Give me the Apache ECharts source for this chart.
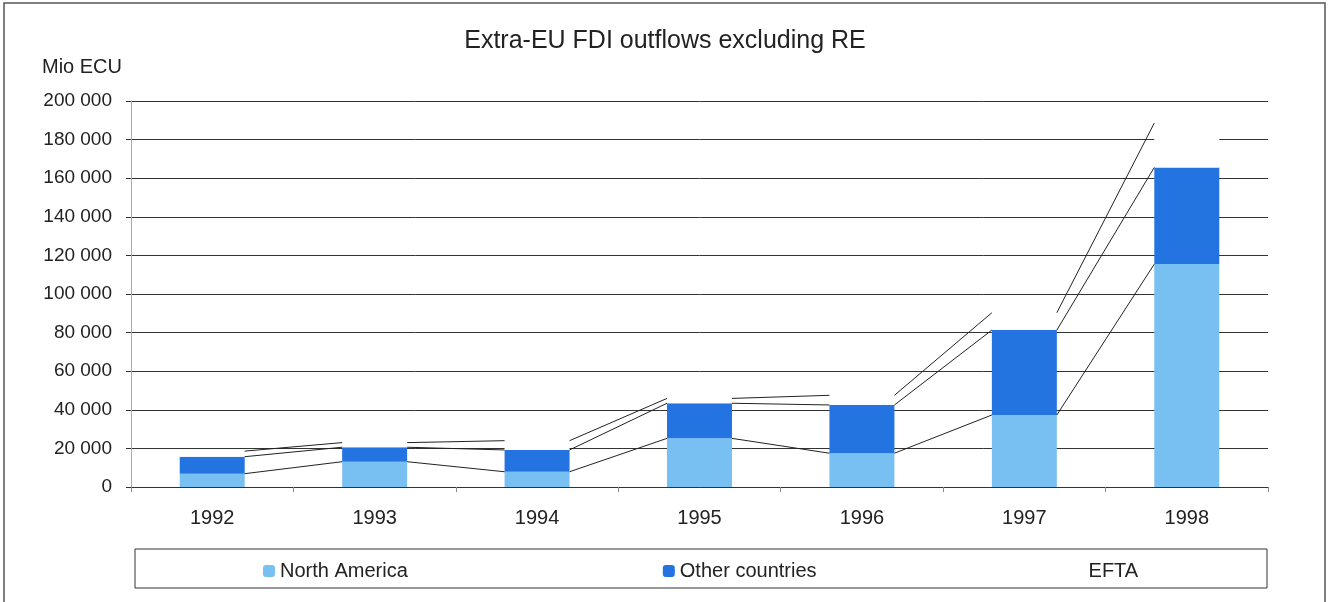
<!DOCTYPE html>
<html>
<head>
<meta charset="utf-8">
<script src="https://cdn.jsdelivr.net/npm/echarts@6/dist/echarts.min.js"></script>
<style>
  html, body { margin: 0; padding: 0; background: #fff; }
  #main { width: 1330px; height: 602px; }
</style>
</head>
<body>
<div id="main"></div>
<script>
  var years = ['1992', '1993', '1994', '1995', '1996', '1997', '1998'];
  var northAmerica = [6900, 13100, 7900, 25200, 17500, 37300, 115500];
  var otherCountries = [8800, 7500, 11300, 18200, 25000, 44000, 50100];
  var efta = [2900, 2400, 4800, 2500, 5000, 9000, 23000];

  var FONT = 'Liberation Sans, Arial, sans-serif';
  var BAR_FRAC = 0.4;

  // 累计高度，用来画柱子之间的连接线
  var topNA = [], topOther = [], topEfta = [];
  for (var i = 0; i < years.length; i++) {
    topNA.push(northAmerica[i]);
    topOther.push(northAmerica[i] + otherCountries[i]);
    topEfta.push(northAmerica[i] + otherCountries[i] + efta[i]);
  }
  var linkData = [];
  for (var j = 0; j < years.length - 1; j++) {
    linkData.push([j, topNA[j], topNA[j + 1], topOther[j], topOther[j + 1], topEfta[j], topEfta[j + 1]]);
  }

  function fmt(v) {
    return String(v).replace(/\B(?=(\d{3})+(?!\d))/g, ' ');
  }

  var myChart = echarts.init(document.getElementById('main'));

  option = {
      backgroundColor: '#fff',
      textStyle: { fontFamily: FONT },
      title: {
        text: 'Extra-EU FDI outflows excluding RE',
        left: 'center',
        top: 24,
        textStyle: { color: '#222', fontSize: 25, fontWeight: 'normal', fontFamily: FONT }
      },
      graphic: [
        {
          type: 'rect',
          shape: { x: 4, y: 3, width: 1321, height: 620 },
          style: { fill: null, stroke: '#555', lineWidth: 1.5 },
          silent: true
        },
        {
          type: 'rect',
          shape: { x: 135, y: 549, width: 1132, height: 39 },
          style: { fill: null, stroke: '#333', lineWidth: 1 },
          silent: true
        },
        {
          type: 'text',
          left: 42,
          top: 57,
          style: { text: 'Mio ECU', fill: '#222', font: '20px ' + FONT }
        }
      ],
      legend: {
        data: ['North America', 'Other countries', 'EFTA'],
        left: 258,
        top: 556,
        itemWidth: 12,
        itemHeight: 12,
        itemGap: 255,
        textStyle: { color: '#222', fontSize: 20, fontFamily: FONT }
      },
      grid: {
          left: 131,
          right: 62,
          top: 101,
          bottom: 115
      },
      xAxis: {
          type: 'category',
          data: years,
          axisLine: { lineStyle: { color: '#333', width: 1 } },
          axisTick: { show: true, length: 5, lineStyle: { color: '#888' } },
          axisLabel: { color: '#222', fontSize: 20, margin: 21, fontFamily: FONT }
      },
      yAxis: {
          type: 'value',
          min: 0,
          max: 200000,
          interval: 20000,
          axisLine: { show: true, lineStyle: { color: '#aaa' } },
          axisTick: { show: true, length: 5, lineStyle: { color: '#333' } },
          splitLine: { lineStyle: { color: '#333', width: 1 } },
          axisLabel: {
              color: '#222',
              fontSize: 19,
              margin: 19,
              fontFamily: FONT,
              formatter: fmt
          }
      },
      series: [
          {
              name: 'North America',
              type: 'bar',
              stack: 'fdi',
              barWidth: '40%',
              data: northAmerica,
              itemStyle: { color: '#79c0f2' }
          },
          {
              name: 'Other countries',
              type: 'bar',
              stack: 'fdi',
              barWidth: '40%',
              data: otherCountries,
              itemStyle: { color: '#2374e0' }
          },
          {
              name: 'EFTA',
              type: 'bar',
              stack: 'fdi',
              barWidth: '40%',
              data: efta,
              itemStyle: { color: '#ffffff' }
          },
          {
              // 柱子之间的连接线（类似 Excel 的系列线）
              name: 'links',
              type: 'custom',
              data: linkData,
              encode: { x: 0, y: [1, 2, 3, 4, 5, 6] },
              z: 5,
              silent: true,
              renderItem: function (params, api) {
                var idx = api.value(0);
                var band = api.size([1, 0])[0];
                var half = band * BAR_FRAC / 2;
                var kids = [];
                for (var k = 0; k < 3; k++) {
                  var a = api.coord([idx, api.value(1 + k * 2)]);
                  var b = api.coord([idx + 1, api.value(2 + k * 2)]);
                  kids.push({
                    type: 'line',
                    shape: { x1: a[0] + half, y1: a[1], x2: b[0] - half, y2: b[1] },
                    style: { stroke: '#222', lineWidth: 1 }
                  });
                }
                return { type: 'group', children: kids };
              }
          }
      ]
  };
  myChart.setOption(option);
</script>
</body>
</html>
